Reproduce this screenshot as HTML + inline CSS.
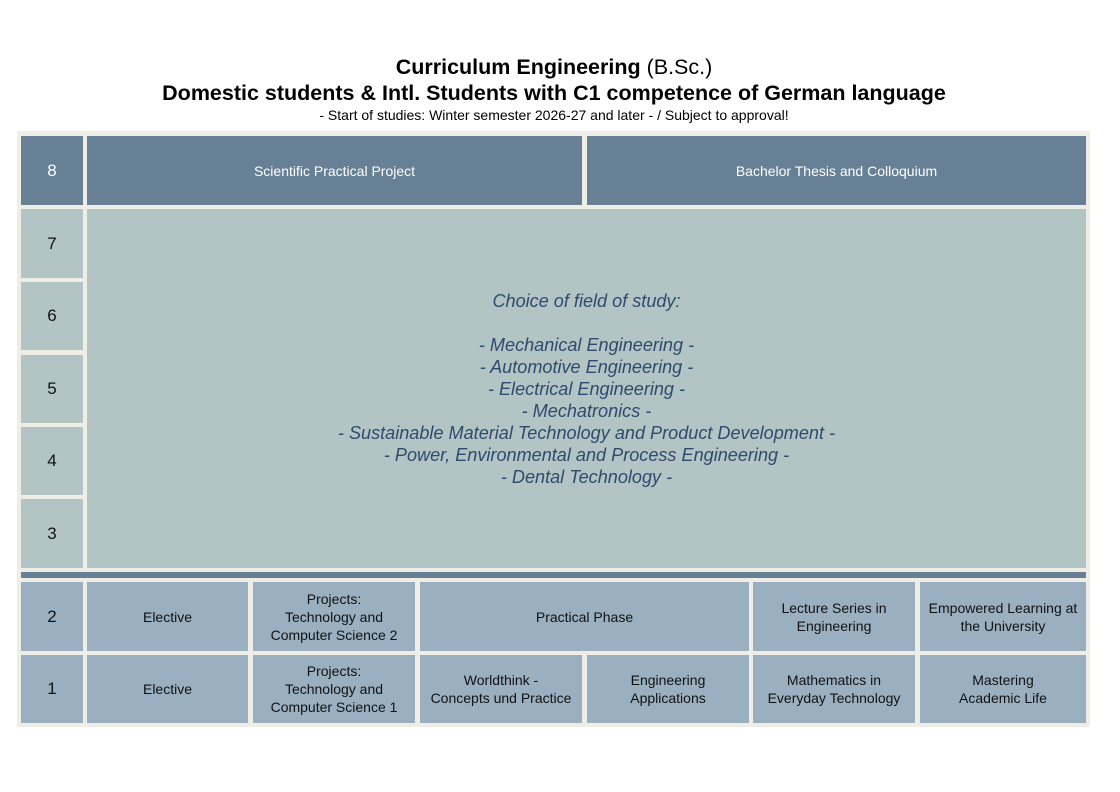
<!DOCTYPE html>
<html><head><style>
body{margin:0;width:1120px;height:792px;background:#fff;position:relative;font-family:"Liberation Sans",sans-serif;overflow:hidden}
.t{position:absolute;left:-6px;width:1120px;text-align:center;color:#000}
.c{position:absolute;display:flex;align-items:center;justify-content:center;text-align:center;font-size:14px;line-height:18px;color:#111}
.d{background:#678096;color:#fff}
.l{background:#b2c5c4}
.b{background:#9ab0c0}
.n{font-size:17px}
</style></head><body>
<div class="t" style="top:54px;font-size:21.5px;line-height:26px"><b>Curriculum Engineering</b> (B.Sc.)</div>
<div class="t" style="top:80px;font-size:21.5px;line-height:26px;font-weight:bold">Domestic students &amp; Intl. Students with C1 competence of German language</div>
<div class="t" style="top:106px;font-size:14px;line-height:18px">- Start of studies: Winter semester 2026-27 and later - / Subject to approval!</div>
<div style="position:absolute;left:17px;top:131px;width:1073px;height:596px;background:#efeee6"></div>
<div class="c d n" style="left:21px;top:136px;width:62px;height:69px">8</div>
<div class="c d" style="left:87px;top:136px;width:495px;height:69px">Scientific Practical Project</div>
<div class="c d" style="left:587px;top:136px;width:499px;height:69px">Bachelor Thesis and Colloquium</div>
<div class="c l n" style="left:21px;top:209px;width:62px;height:69px">7</div>
<div class="c l n" style="left:21px;top:282px;width:62px;height:68px">6</div>
<div class="c l n" style="left:21px;top:355px;width:62px;height:68px">5</div>
<div class="c l n" style="left:21px;top:427px;width:62px;height:68px">4</div>
<div class="c l n" style="left:21px;top:499px;width:62px;height:69px">3</div>
<div class="c l" style="left:87px;top:209px;width:999px;height:359px;font-size:18.1px;line-height:22px;font-style:italic;color:#2f4a6e"><div style="margin-top:0px">Choice of field of study:<br><br>- Mechanical Engineering -<br>- Automotive Engineering -<br>- Electrical Engineering -<br>- Mechatronics -<br>- Sustainable Material Technology and Product Development -<br>- Power, Environmental and Process Engineering -<br>- Dental Technology -</div></div>
<div style="position:absolute;left:21px;top:572px;width:1065px;height:6px;background:#678096"></div>
<div class="c b n" style="left:21px;top:582px;width:62px;height:69px">2</div>
<div class="c b" style="left:87px;top:582px;width:161px;height:69px">Elective</div>
<div class="c b" style="left:253px;top:582px;width:162px;height:69px">Projects:<br>Technology and<br>Computer Science 2</div>
<div class="c b" style="left:420px;top:582px;width:329px;height:69px">Practical Phase</div>
<div class="c b" style="left:753px;top:582px;width:162px;height:69px">Lecture Series in<br>Engineering</div>
<div class="c b" style="left:920px;top:582px;width:166px;height:69px">Empowered Learning at<br>the University</div>
<div class="c b n" style="left:21px;top:655px;width:62px;height:68px">1</div>
<div class="c b" style="left:87px;top:655px;width:161px;height:68px">Elective</div>
<div class="c b" style="left:253px;top:655px;width:162px;height:68px">Projects:<br>Technology and<br>Computer Science 1</div>
<div class="c b" style="left:420px;top:655px;width:162px;height:68px">Worldthink -<br>Concepts und Practice</div>
<div class="c b" style="left:587px;top:655px;width:162px;height:68px">Engineering<br>Applications</div>
<div class="c b" style="left:753px;top:655px;width:162px;height:68px">Mathematics in<br>Everyday Technology</div>
<div class="c b" style="left:920px;top:655px;width:166px;height:68px">Mastering<br>Academic Life</div>
</body></html>
